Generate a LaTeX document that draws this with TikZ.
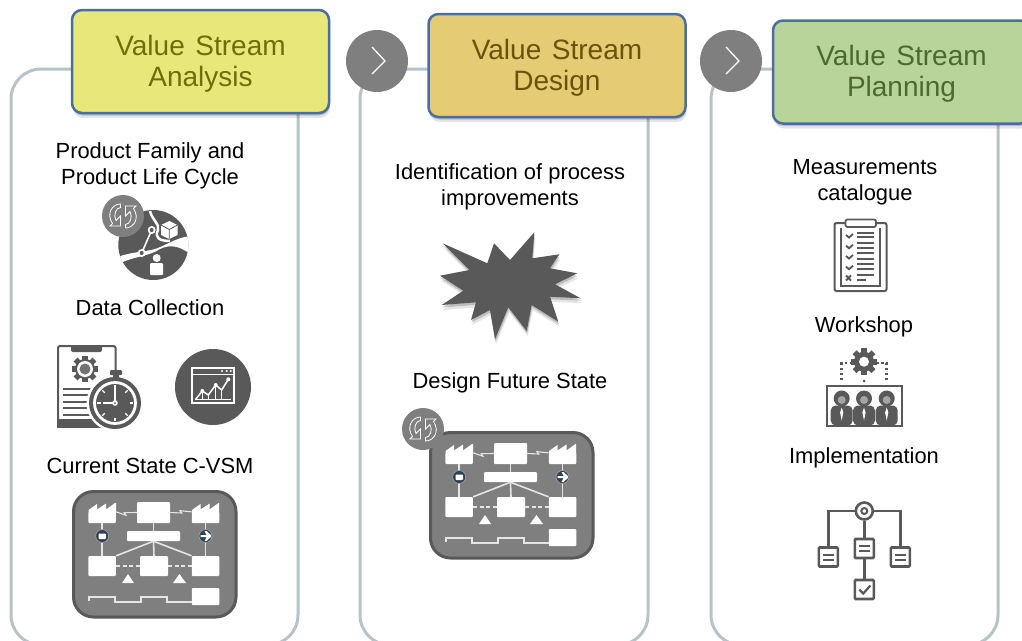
\documentclass[tikz,border=0pt]{standalone}
\usepackage{fontspec}
\setmainfont{Liberation Sans}
\usetikzlibrary{shadows}
\definecolor{panelline}{HTML}{B7C3CA}
\definecolor{icondark}{HTML}{595959}
\definecolor{icongrey}{HTML}{7F7F7F}
\definecolor{headblue}{HTML}{4A6F9F}
\definecolor{dotdark}{HTML}{2F4254}
\definecolor{fillAnalysis}{HTML}{E8E87A}
\definecolor{textAnalysis}{HTML}{6E6E0A}
\definecolor{fillDesign}{HTML}{E5CB73}
\definecolor{textDesign}{HTML}{6B5208}
\definecolor{fillPlanning}{HTML}{B8D49A}
\definecolor{textPlanning}{HTML}{4A6B30}
\newcommand{\headstrut}{\rule{0pt}{24.5pt}}
\tikzset{
	panel/.style={draw=panelline,line width=3pt,rounded corners=30pt},
	softshadow/.style={drop shadow={shadow xshift=1pt,shadow yshift=-5pt,opacity=.1,fill=black},drop shadow={shadow xshift=.5pt,shadow yshift=-2.5pt,opacity=.18,fill=black}},
	header/.style={draw=headblue,line width=2.5pt,rounded corners=10pt,minimum width=257pt,minimum height=103pt,align=center,
		font=\fontsize{28}{31}\selectfont,softshadow},
	itemtext/.style={align=center,font=\fontsize{21.9}{26}\selectfont,text=black},
	nextstep/.style={circle,fill=icongrey,minimum size=62pt,inner sep=0pt},
	mapbox/.style={fill=white,inner sep=0pt,rounded corners=1pt},
	mapline/.style={draw=white!90!black,line width=1.6pt},
	mapdot/.style={circle,fill=dotdark,draw=white!65!black,line width=.6pt,minimum size=13pt,inner sep=0pt},
	planbox/.style={draw=icondark,fill=white,line width=2.6pt,minimum width=19pt,minimum height=19pt,inner sep=0pt,rounded corners=1pt},
	planline/.style={draw=icondark,line width=2.6pt},
	pics/syncbadge/.style={code={
		\fill[icongrey] (0,0) circle (21);
		\foreach \a in {0,180}
			\draw[white,line width=.8pt,rotate=\a] (-2.5,-12) .. controls (-11,-12) and (-17,-2) .. (-10.5,7.5) -- (-13,10) -- (-2.5,10) -- (-2.5,0) -- (-7,4.5) .. controls (-10,-1) and (-7,-8.5) .. (-2.5,-8.5) -- cycle;
	}},
	pics/gear/.style={code={
		\fill[icondark] (0,0) circle (10);
		\foreach \a in {0,45,...,315}
			\fill[icondark,rotate=\a] (-2.8,-13.3) rectangle (2.8,-8);
	}},
	pics/person/.style={code={
		\fill[icondark] (0,0) circle (8);
		\fill[icongrey!70] (0,1.5) circle (4);
		\fill[icondark,rounded corners=5pt] (-11,27) -- (-11,7) -- (11,7) -- (11,27) -- cycle;
		\fill[white] (0,9) -- (1.6,14) -- (0,22) -- (-1.6,14) -- cycle;
	}},
	pics/vsmmap/.style={code={
		% frame of the map
		\draw[draw=icondark,fill=icongrey,line width=3pt,rounded corners=20pt] (3.5,1.5) rectangle (166,127);
		% upper row
		\node[mapbox,minimum width=27.5pt,minimum height=11pt] (-factoryL) at (32.2,27.5) {};
		\node[mapbox,minimum width=27.5pt,minimum height=11pt] (-factoryR) at (135.5,27.5) {};
		\fill[white] (18.5,23) -- (18.5,20) -- (27,14) -- (27,19.5) -- (36,13.5) -- (36,19.5) -- (45,13) -- (46,13) -- (46,23) -- cycle;
		\fill[white] (122,23) -- (122,20) -- (130.5,14) -- (130.5,19.5) -- (139.5,13.5) -- (139.5,19.5) -- (148.5,13) -- (149,13) -- (149,23) -- cycle;
		\node[mapbox,minimum width=33pt,minimum height=21pt] (-control) at (83.5,22.5) {};
		\node[mapbox,minimum width=53pt,minimum height=10pt] (-plan) at (83.5,46) {};
		% lower row
		\node[mapbox,minimum width=27.5pt,minimum height=20pt] (-boxL) at (32.2,76) {};
		\node[mapbox,minimum width=28pt,minimum height=20pt] (-boxM) at (84,76) {};
		\node[mapbox,minimum width=27.5pt,minimum height=20pt] (-boxR) at (135.5,76) {};
		\node[mapbox,minimum width=27.5pt,minimum height=17pt] (-lead) at (135.5,106.5) {};
		% connectors
		\draw[mapline] (-factoryL) -- (-boxL);
		\draw[mapline] (-factoryR) -- (-boxR);
		\draw[mapline] (-control) -- (-plan);
		\draw[mapline] (-plan.south) -- (-boxM.north);
		\draw[mapline] (-plan.south) -- (-boxL.north east);
		\draw[mapline] (-plan.south) -- (-boxR.north west);
		\draw[mapline,dash pattern=on 4pt off 2.5pt] (-boxL) -- (-boxM);
		\draw[mapline,dash pattern=on 4pt off 2.5pt] (-boxM) -- (-boxR);
		\draw[mapline,line width=1.1pt] (-factoryL.north east) -- (56,25.3) -- (54.3,22.7) -- (-control.west);
		\draw[mapline,line width=1.1pt] (-control.east) -- (111.7,23) -- (110,20.7) -- (-factoryR.north west);
		% truck and plane
		\node[mapdot] (-truck) at (32.2,46) {};
		\node[mapdot] (-plane) at (135.5,46) {};
		\fill[white,rounded corners=.8pt] (28.5,43.5) rectangle (36,49);
		\fill[white] (130.5,45) -- (136.5,45) -- (134.5,41) -- (136.5,41) -- (141,45) -- (141,47) -- (136.5,51) -- (134.5,51) -- (136.5,47) -- (130.5,47) -- cycle;
		% triangles and time line
		\fill[white] (52,93) -- (58,84) -- (64,93) -- cycle;
		\fill[white] (103,93) -- (109.5,84) -- (116,93) -- cycle;
		\draw[mapline,line width=1.3pt] (19,111) -- (19,107) -- (45,107) -- (45,112) -- (71,112) -- (71,107) -- (97,107) -- (97,112) -- (122,112);
	}},
}
\begin{document}
\begin{tikzpicture}[x=1pt,y=-1pt]
	\path[use as bounding box,clip] (0,0) rectangle (1022,640);

	% Panels behind the headers
	\foreach \xa/\xb in {11/298,360/648,711/998}
		\draw[panel] (\xa,69) rectangle (\xb,645);

	% Headers
	\node[header,fill=fillAnalysis,text=textAnalysis] (headAnalysis) at (200.5,61.5) {\headstrut Value \hspace{.1em}Stream\\Analysis};
	\node[header,fill=fillDesign,text=textDesign] (headDesign) at (557,65.5) {\headstrut Value \hspace{.1em}Stream\\Design};
	\node[header,fill=fillPlanning,text=textPlanning] (headPlanning) at (901.5,72) {\headstrut Value \hspace{.1em}Stream\\Planning};

	% Circles with the chevrons
	\foreach \name/\xc in {nextA/377,nextB/731}{
		\node[nextstep] (\name) at (\xc,61) {};
		\draw[white,line width=1.3pt] ([shift={(-5pt,14pt)}]\name.center) -- ([shift={(8pt,0pt)}]\name.center) -- ([shift={(-5pt,-13pt)}]\name.center);
	}

	% Texts of the first panel
	\node[itemtext] (txtFamily) at (150,166) {Product Family and\\Product Life Cycle};
	\node[itemtext] (txtData) at (150,308) {Data Collection};
	\node[itemtext] (txtCurrent) at (150,466) {Current State C-VSM};

	% Texts of the second panel
	\node[itemtext] (txtImprove) at (510,186.5) {Identification of process\\improvements};
	\node[itemtext] (txtFuture) at (510,383) {Design Future State};

	% Texts of the third panel
	\node[itemtext] (txtMeasure) at (865,182) {Measurements\\catalogue};
	\node[itemtext] (txtWorkshop) at (864,327) {Workshop};
	\node[itemtext] (txtImplement) at (864,458) {Implementation};

	% Globe
	\begin{scope}
		\fill[icondark] (153.3,245) circle (35);
		\clip (153.3,245) circle (35);
		\fill[white] (118,257) .. controls (130,252) and (145,252) .. (155,249) .. controls (165,246) and (175,238) .. (190,236) -- (190,254) .. controls (180,246) and (170,244) .. (160,249) .. controls (150,256) and (135,256) .. (118,264) -- cycle;
		\draw[white,line width=2.5pt] (150,211) .. controls (152,220) and (160,224) .. (158,230) .. controls (154,238) and (160,241) .. (170,241);
	\end{scope}
	\draw[white,line width=1.6pt] (151.7,230) -- (141.7,253);
	\fill[white] (151.7,230) circle (4) (141.7,253) circle (4);
	\fill[icondark] (151.7,230) circle (2) (141.7,253) circle (2);
	\fill[white] (169.3,221) -- (177.5,225) -- (177.5,235) -- (169.3,239) -- (161,235) -- (161,225) -- cycle;
	\draw[icondark,line width=.8pt] (161,225) -- (169.3,229.5) -- (177.5,225) (169.3,229.5) -- (169.3,239);
	\fill[white] (156.7,258) circle (4);
	\fill[white,rounded corners=1pt] (150,275) rectangle (163,263);
	\pic (syncA) at (123,216) {syncbadge};

	% Clipboard with gear and stopwatch
	\draw[icondark,line width=2pt,rounded corners=2pt] (58,427) -- (58,346) -- (115.5,346) -- (115.5,378);
	\fill[icondark,rounded corners=2pt] (71,345) rectangle (102,352);
	\fill[icondark] (57,419) rectangle (104,428);
	\pic (gearA) at (85,369) {gear};
	\fill[white] (85,369) circle (8);
	\fill[icondark!85] (85,369) circle (5.5);
	\foreach \ya in {389,395,402,408,415}
		\draw[icondark,line width=2.4pt] (63,\ya) -- (95,\ya);
	\fill[white] (115,403) circle (28.5);
	\fill[icondark,rounded corners=1pt] (110,370) rectangle (122,375);
	\fill[icondark] (113,374) rectangle (119,380);
	\fill[icondark] (115,403) circle (26);
	\draw[white,line width=2.8pt] (115,403) circle (20.5);
	\foreach \a in {0,45,...,315}
		\draw[white,line width=1.2pt,rotate around={\a:(115,403)}] (115,385) -- (115,388.5);
	\draw[white,line width=1.8pt] (115,389) -- (115,403) -- (103,403);
	\fill[white] (115,403) circle (2.8);
	\fill[icondark] (115,403) circle (1);

	% Circle with the chart
	\fill[icondark] (213,387) circle (38);
	\draw[white,line width=1.4pt] (192,368) rectangle (234,403);
	\draw[white,line width=1pt] (192,374) -- (234,374);
	\fill[white] (222,371) circle (1.1) (226.7,371) circle (1.1) (230.7,371) circle (1.1);
	\draw[white,line width=1.5pt] (195.7,399.3) -- (202.3,391) -- (208.3,395) -- (215.7,385) -- (221.7,390) -- (228.3,379.3);
	\draw[white,line width=.9pt] (195,399.5) -- (231,399.5) (202.3,391) -- (202.3,399) (208.3,395) -- (208.3,399) (215.7,385) -- (215.7,399) (221.7,390) -- (221.7,399);
	\fill[white] (202.3,391) circle (2) (215.7,385) circle (2) (228.3,379.3) circle (2);

	% Value stream maps
	\pic (mapA) at (70,490) {vsmmap};
	\pic (mapB) at (427,431) {vsmmap};
	\pic (syncB) at (423,429) {syncbadge};

	% Star
	\fill[icondark,softshadow] (442.7,243.3) -- (487.3,263.3) -- (494,243.3) -- (510,260) -- (534.3,232.3) -- (532.3,258.3) -- (559.3,254.3) -- (550,268.3) -- (577.3,273.3) -- (555,284.3) -- (580.7,298.3) -- (550,296.7) -- (558.3,321.7) -- (531.7,305) -- (526.7,331) -- (508.3,307.3) -- (495,339.3) -- (490,310) -- (471,320) -- (476,302.3) -- (441.7,305) -- (463.3,290.7) -- (440,275.7) -- (469.3,270) -- cycle;

	% Clipboard with the check list
	\draw[icondark,line width=2pt,rounded corners=2pt] (845,223) -- (834.5,223) -- (834.5,291) -- (886.5,291) -- (886.5,223) -- (876,223);
	\draw[icondark,line width=1.8pt,rounded corners=2pt] (845.5,219.5) rectangle (876,227);
	\draw[icondark,line width=1.5pt] (841,228) -- (841,286) -- (880,286) -- (880,228);
	\foreach \ya in {235,245.7,256,266.7}
		\draw[icondark,line width=1.9pt] (846,\ya) -- (849,\ya+2.5) -- (853,\ya-1);
	\draw[icondark,line width=1.9pt] (846,275.5) -- (851,280.5) (846,280.5) -- (851,275.5);
	\foreach \ya in {233.3,237.3,243.3,248.3,253.3,259,264,269,275}
		\draw[icondark,line width=1.8pt] (857,\ya) -- (874,\ya);
	\draw[icondark,line width=1.8pt] (857,280) -- (866,280);

	% Workshop icon
	\pic (gearB) at (864,361.7) {gear};
	\fill[white] (864,361.7) circle (5);
	\draw[icondark,line width=2.5pt,dash pattern=on 2.5pt off 2.5pt] (841.7,380) -- (841.7,363) -- (851,363);
	\draw[icondark,line width=2.5pt,dash pattern=on 2.5pt off 2.5pt] (886.7,380) -- (886.7,363) -- (877,363);
	\fill[icondark] (864,381) circle (1.5);
	\draw[icondark,line width=2pt] (827,386) rectangle (902,426);
	\foreach \xa in {841.7,864,886.7}
		\pic at (\xa,398.5) {person};

	% Implementation tree
	\node[circle,draw=icondark,fill=white,line width=2.6pt,minimum size=17pt,inner sep=0pt] (treeTop) at (864.3,511) {};
	\node[planbox] (treeLeft) at (828.3,557) {};
	\node[planbox] (treeMid) at (864.3,548.5) {};
	\node[planbox] (treeRight) at (900.3,557) {};
	\node[planbox] (treeCheck) at (864.3,589.5) {};
	\draw[planline] (treeTop.west) -| (treeLeft.north);
	\draw[planline] (treeTop.east) -| (treeRight.north);
	\draw[planline] (treeTop) -- (treeMid);
	\draw[planline] (treeMid) -- (treeCheck);
	\draw[icondark,line width=2pt] (treeTop) circle (3);
	\foreach \name in {treeLeft,treeMid,treeRight}
		\draw[icondark,line width=2pt] ([shift={(-5.5pt,2.5pt)}]\name.center) -- ([shift={(5.5pt,2.5pt)}]\name.center) ([shift={(-5.5pt,-2.5pt)}]\name.center) -- ([shift={(5.5pt,-2.5pt)}]\name.center);
	\draw[icondark,line width=2.2pt] ([shift={(-5pt,0pt)}]treeCheck.center) -- ([shift={(-1pt,-4pt)}]treeCheck.center) -- ([shift={(6pt,4pt)}]treeCheck.center);
\end{tikzpicture}
\end{document}
